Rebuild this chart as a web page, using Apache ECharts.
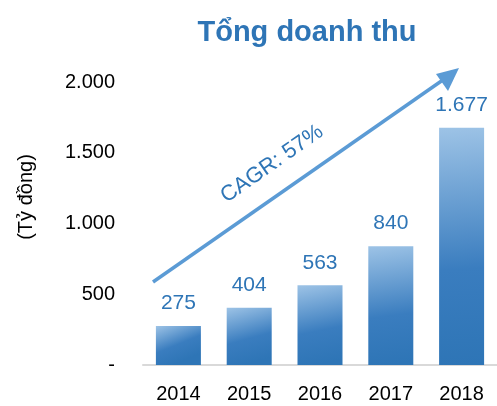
<!DOCTYPE html>
<html>
<head>
<meta charset="utf-8">
<script src="https://cdn.jsdelivr.net/npm/echarts@6/dist/echarts.min.js"></script>
<style>
  html, body { margin: 0; padding: 0; background: #fff; }
  #chart-el { width: 497px; height: 406px; }
</style>
</head>
<body>
<div id="chart-el"></div>
<script>
const years = ['2014', '2015', '2016', '2017', '2018'];
const revenue = [275, 404, 563, 840, 1677];
const yTicks = [0, 500, 1000, 1500, 2000];

const fmt = v => v === 0 ? '-' : String(v).replace(/\B(?=(\d{3})+(?!\d))/g, '.');
const font = 'Liberation Sans';

const chart = echarts.init(document.getElementById('chart-el'));
chart.setOption({
  animation: false,
  title: {
    text: 'Tổng doanh thu',
    left: 302,
    top: 13,
    textAlign: 'center',
    textStyle: { color: '#2e75b6', fontSize: 29, fontWeight: 'bold', fontFamily: font }
  },
  grid: { left: 143, right: -4, top: 82, bottom: 41 },
  xAxis: {
    type: 'category',
    data: years,
    axisLine: { lineStyle: { color: '#d9d9d9', width: 2 } },
    axisTick: { show: false },
    axisLabel: { color: '#000', fontSize: 20, fontFamily: font, margin: 19 }
  },
  yAxis: {
    type: 'value',
    min: yTicks[0],
    max: yTicks[yTicks.length - 1],
    interval: 500,
    splitLine: { show: false },
    axisLine: { show: false },
    axisTick: { show: false },
    axisLabel: { color: '#000', fontSize: 20, fontFamily: font, margin: 28, formatter: fmt }
  },
  series: [{
    type: 'bar',
    data: revenue,
    barWidth: 45,
    itemStyle: {
      color: new echarts.graphic.LinearGradient(0, 0, 0.35, 1, [
        { offset: 0, color: '#9dc3e6' },
        { offset: 0.6, color: '#3a7dbf' },
        { offset: 1, color: '#2e75b6' }
      ])
    },
    label: {
      show: true,
      position: 'top',
      distance: 12,
      color: '#2e75b6',
      fontSize: 21,
      fontFamily: font,
      formatter: p => fmt(p.value)
    }
  }],
  graphic: [
    {
      type: 'text',
      x: 26,
      y: 197,
      rotation: Math.PI / 2,
      style: {
        text: '(Tỷ đồng)',
        fill: '#000',
        fontSize: 20,
        fontFamily: font,
        align: 'center',
        verticalAlign: 'middle'
      }
    },
    {
      type: 'line',
      shape: { x1: 153, y1: 282, x2: 450, y2: 75 },
      style: { stroke: '#5b9bd5', lineWidth: 3.5 }
    },
    {
      type: 'polygon',
      shape: { points: [[459, 68], [436, 74], [448, 91]] },
      style: { fill: '#5b9bd5' }
    },
    {
      type: 'text',
      x: 272,
      y: 164,
      rotation: 35 * Math.PI / 180,
      style: {
        text: 'CAGR: 57%',
        fill: '#2e75b6',
        fontSize: 22,
        fontFamily: font,
        align: 'center',
        verticalAlign: 'middle'
      }
    }
  ]
});
</script>
</body>
</html>
